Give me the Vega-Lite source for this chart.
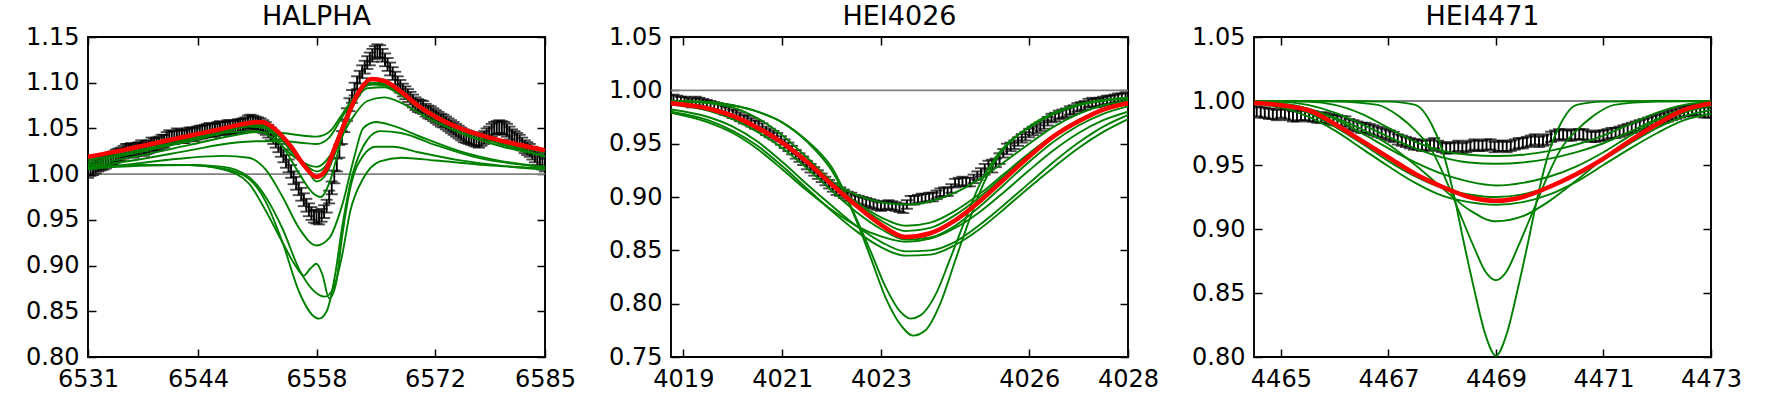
{
"$schema": "https://vega.github.io/schema/vega-lite/v6.json",
"padding": {"left": 24, "top": 2, "right": 5, "bottom": 5},
"bounds": "flush",
"spacing": 126,
"config": {
  "font": "DejaVu Sans",
  "view": {"stroke": "black", "strokeWidth": 1.9},
  "axis": {"domain": false, "grid": false, "ticks": true, "tickSize": -8, "tickColor": "black", "tickWidth": 1.5, "labelFont": "DejaVu Sans", "labelFontSize": 24, "labelColor": "black", "labelFlush": false, "labelOverlap": false, "labelPadding": 17, "title": null, "minExtent": 0},
  "axisX": {"labelPadding": 18},
  "title": {"font": "DejaVu Sans", "fontSize": 27, "fontWeight": "normal", "color": "black", "offset": -6, "baseline": "alphabetic", "anchor": "middle", "frame": "group"}
},
"datasets": {
"pts": [
{"p":"a","x":6531.0,"y":1.003,"e":0.007},{"p":"a","x":6531.6,"y":1.006,"e":0.007},{"p":"a","x":6532.2,"y":1.010,"e":0.007},{"p":"a","x":6532.8,"y":1.012,"e":0.007},{"p":"a","x":6533.4,"y":1.015,"e":0.007},{"p":"a","x":6534.0,"y":1.018,"e":0.007},{"p":"a","x":6534.6,"y":1.021,"e":0.007},{"p":"a","x":6535.2,"y":1.024,"e":0.007},{"p":"a","x":6535.8,"y":1.026,"e":0.007},{"p":"a","x":6536.4,"y":1.025,"e":0.007},
{"p":"a","x":6537.0,"y":1.028,"e":0.007},{"p":"a","x":6537.6,"y":1.027,"e":0.007},{"p":"a","x":6538.2,"y":1.030,"e":0.007},{"p":"a","x":6538.8,"y":1.032,"e":0.007},{"p":"a","x":6539.4,"y":1.034,"e":0.007},{"p":"a","x":6540.0,"y":1.036,"e":0.007},{"p":"a","x":6540.6,"y":1.041,"e":0.007},{"p":"a","x":6541.2,"y":1.040,"e":0.007},{"p":"a","x":6541.8,"y":1.042,"e":0.007},{"p":"a","x":6542.4,"y":1.041,"e":0.007},
{"p":"a","x":6543.0,"y":1.044,"e":0.007},{"p":"a","x":6543.6,"y":1.043,"e":0.007},{"p":"a","x":6544.2,"y":1.046,"e":0.007},{"p":"a","x":6544.8,"y":1.047,"e":0.007},{"p":"a","x":6545.4,"y":1.049,"e":0.007},{"p":"a","x":6546.0,"y":1.048,"e":0.007},{"p":"a","x":6546.6,"y":1.051,"e":0.007},{"p":"a","x":6547.2,"y":1.050,"e":0.007},{"p":"a","x":6547.8,"y":1.052,"e":0.007},{"p":"a","x":6548.4,"y":1.051,"e":0.007},
{"p":"a","x":6549.0,"y":1.053,"e":0.007},{"p":"a","x":6549.6,"y":1.055,"e":0.007},{"p":"a","x":6550.2,"y":1.058,"e":0.007},{"p":"a","x":6550.8,"y":1.056,"e":0.007},{"p":"a","x":6551.4,"y":1.054,"e":0.007},{"p":"a","x":6552.0,"y":1.050,"e":0.007},{"p":"a","x":6552.6,"y":1.044,"e":0.007},{"p":"a","x":6553.2,"y":1.036,"e":0.007},{"p":"a","x":6553.8,"y":1.026,"e":0.007},{"p":"a","x":6554.4,"y":1.014,"e":0.007},
{"p":"a","x":6555.0,"y":1.003,"e":0.007},{"p":"a","x":6555.6,"y":0.990,"e":0.007},{"p":"a","x":6556.2,"y":0.978,"e":0.007},{"p":"a","x":6556.8,"y":0.966,"e":0.007},{"p":"a","x":6557.4,"y":0.957,"e":0.007},{"p":"a","x":6558.0,"y":0.953,"e":0.007},{"p":"a","x":6558.6,"y":0.955,"e":0.007},{"p":"a","x":6559.2,"y":0.965,"e":0.007},{"p":"a","x":6559.8,"y":0.985,"e":0.007},{"p":"a","x":6560.4,"y":1.010,"e":0.007},
{"p":"a","x":6561.0,"y":1.040,"e":0.007},{"p":"a","x":6561.6,"y":1.065,"e":0.007},{"p":"a","x":6562.2,"y":1.085,"e":0.007},{"p":"a","x":6562.8,"y":1.100,"e":0.007},{"p":"a","x":6563.4,"y":1.112,"e":0.007},{"p":"a","x":6564.0,"y":1.122,"e":0.007},{"p":"a","x":6564.6,"y":1.130,"e":0.007},{"p":"a","x":6565.2,"y":1.135,"e":0.007},{"p":"a","x":6565.8,"y":1.130,"e":0.007},{"p":"a","x":6566.4,"y":1.120,"e":0.007},
{"p":"a","x":6567.0,"y":1.110,"e":0.007},{"p":"a","x":6567.6,"y":1.100,"e":0.007},{"p":"a","x":6568.2,"y":1.092,"e":0.007},{"p":"a","x":6568.8,"y":1.086,"e":0.007},{"p":"a","x":6569.4,"y":1.080,"e":0.007},{"p":"a","x":6570.0,"y":1.075,"e":0.007},{"p":"a","x":6570.6,"y":1.073,"e":0.007},{"p":"a","x":6571.2,"y":1.068,"e":0.007},{"p":"a","x":6571.8,"y":1.065,"e":0.007},{"p":"a","x":6572.4,"y":1.061,"e":0.007},
{"p":"a","x":6573.0,"y":1.058,"e":0.007},{"p":"a","x":6573.6,"y":1.054,"e":0.007},{"p":"a","x":6574.2,"y":1.050,"e":0.007},{"p":"a","x":6574.8,"y":1.046,"e":0.007},{"p":"a","x":6575.4,"y":1.042,"e":0.007},{"p":"a","x":6576.0,"y":1.040,"e":0.007},{"p":"a","x":6576.6,"y":1.038,"e":0.007},{"p":"a","x":6577.2,"y":1.036,"e":0.007},{"p":"a","x":6577.8,"y":1.040,"e":0.007},{"p":"a","x":6578.4,"y":1.045,"e":0.007},
{"p":"a","x":6579.0,"y":1.050,"e":0.007},{"p":"a","x":6579.6,"y":1.052,"e":0.007},{"p":"a","x":6580.2,"y":1.050,"e":0.007},{"p":"a","x":6580.8,"y":1.045,"e":0.007},{"p":"a","x":6581.4,"y":1.040,"e":0.007},{"p":"a","x":6582.0,"y":1.036,"e":0.007},{"p":"a","x":6582.6,"y":1.030,"e":0.007},{"p":"a","x":6583.2,"y":1.026,"e":0.007},{"p":"a","x":6583.8,"y":1.020,"e":0.007},{"p":"a","x":6584.4,"y":1.015,"e":0.007},{"p":"a","x":6585.0,"y":1.010,"e":0.007},
{"p":"a","x":6531.3,"y":1.005,"e":0.007},{"p":"a","x":6531.9,"y":1.008,"e":0.007},{"p":"a","x":6532.5,"y":1.011,"e":0.007},{"p":"a","x":6533.1,"y":1.013,"e":0.007},{"p":"a","x":6533.7,"y":1.017,"e":0.007},{"p":"a","x":6534.3,"y":1.020,"e":0.007},{"p":"a","x":6534.9,"y":1.022,"e":0.007},{"p":"a","x":6535.5,"y":1.026,"e":0.007},{"p":"a","x":6536.1,"y":1.027,"e":0.007},{"p":"a","x":6536.7,"y":1.027,"e":0.007},
{"p":"a","x":6537.3,"y":1.030,"e":0.007},{"p":"a","x":6537.9,"y":1.029,"e":0.007},{"p":"a","x":6538.5,"y":1.033,"e":0.007},{"p":"a","x":6539.1,"y":1.033,"e":0.007},{"p":"a","x":6539.7,"y":1.036,"e":0.007},{"p":"a","x":6540.3,"y":1.039,"e":0.007},{"p":"a","x":6540.9,"y":1.040,"e":0.007},{"p":"a","x":6541.5,"y":1.043,"e":0.007},{"p":"a","x":6542.1,"y":1.041,"e":0.007},{"p":"a","x":6542.7,"y":1.043,"e":0.007},
{"p":"a","x":6543.3,"y":1.044,"e":0.007},{"p":"a","x":6543.9,"y":1.045,"e":0.007},{"p":"a","x":6544.5,"y":1.046,"e":0.007},{"p":"a","x":6545.1,"y":1.048,"e":0.007},{"p":"a","x":6545.7,"y":1.048,"e":0.007},{"p":"a","x":6546.3,"y":1.050,"e":0.007},{"p":"a","x":6546.9,"y":1.050,"e":0.007},{"p":"a","x":6547.5,"y":1.052,"e":0.007},{"p":"a","x":6548.1,"y":1.051,"e":0.007},{"p":"a","x":6548.7,"y":1.053,"e":0.007},
{"p":"a","x":6549.3,"y":1.054,"e":0.007},{"p":"a","x":6549.9,"y":1.057,"e":0.007},{"p":"a","x":6550.5,"y":1.057,"e":0.007},{"p":"a","x":6551.1,"y":1.055,"e":0.007},{"p":"a","x":6551.7,"y":1.052,"e":0.007},{"p":"a","x":6552.3,"y":1.047,"e":0.007},{"p":"a","x":6552.9,"y":1.040,"e":0.007},{"p":"a","x":6553.5,"y":1.031,"e":0.007},{"p":"a","x":6554.1,"y":1.020,"e":0.007},{"p":"a","x":6554.7,"y":1.009,"e":0.007},
{"p":"a","x":6555.3,"y":0.996,"e":0.007},{"p":"a","x":6555.9,"y":0.984,"e":0.007},{"p":"a","x":6556.5,"y":0.972,"e":0.007},{"p":"a","x":6557.1,"y":0.961,"e":0.007},{"p":"a","x":6557.7,"y":0.954,"e":0.007},{"p":"a","x":6558.3,"y":0.952,"e":0.007},{"p":"a","x":6558.9,"y":0.959,"e":0.007},{"p":"a","x":6559.5,"y":0.975,"e":0.007},{"p":"a","x":6560.1,"y":0.997,"e":0.007},{"p":"a","x":6560.7,"y":1.025,"e":0.007},
{"p":"a","x":6561.3,"y":1.053,"e":0.007},{"p":"a","x":6561.9,"y":1.076,"e":0.007},{"p":"a","x":6562.5,"y":1.093,"e":0.007},{"p":"a","x":6563.1,"y":1.106,"e":0.007},{"p":"a","x":6563.7,"y":1.117,"e":0.007},{"p":"a","x":6564.3,"y":1.126,"e":0.007},{"p":"a","x":6564.9,"y":1.133,"e":0.007},{"p":"a","x":6565.5,"y":1.134,"e":0.007},{"p":"a","x":6566.1,"y":1.125,"e":0.007},{"p":"a","x":6566.7,"y":1.115,"e":0.007},
{"p":"a","x":6567.3,"y":1.105,"e":0.007},{"p":"a","x":6567.9,"y":1.096,"e":0.007},{"p":"a","x":6568.5,"y":1.089,"e":0.007},{"p":"a","x":6569.1,"y":1.083,"e":0.007},{"p":"a","x":6569.7,"y":1.077,"e":0.007},{"p":"a","x":6570.3,"y":1.074,"e":0.007},{"p":"a","x":6570.9,"y":1.070,"e":0.007},{"p":"a","x":6571.5,"y":1.067,"e":0.007},{"p":"a","x":6572.1,"y":1.063,"e":0.007},{"p":"a","x":6572.7,"y":1.059,"e":0.007},
{"p":"a","x":6573.3,"y":1.056,"e":0.007},{"p":"a","x":6573.9,"y":1.052,"e":0.007},{"p":"a","x":6574.5,"y":1.048,"e":0.007},{"p":"a","x":6575.1,"y":1.044,"e":0.007},{"p":"a","x":6575.7,"y":1.041,"e":0.007},{"p":"a","x":6576.3,"y":1.039,"e":0.007},{"p":"a","x":6576.9,"y":1.037,"e":0.007},{"p":"a","x":6577.5,"y":1.038,"e":0.007},{"p":"a","x":6578.1,"y":1.043,"e":0.007},{"p":"a","x":6578.7,"y":1.048,"e":0.007},
{"p":"a","x":6579.3,"y":1.051,"e":0.007},{"p":"a","x":6579.9,"y":1.051,"e":0.007},{"p":"a","x":6580.5,"y":1.048,"e":0.007},{"p":"a","x":6581.1,"y":1.042,"e":0.007},{"p":"a","x":6581.7,"y":1.038,"e":0.007},{"p":"a","x":6582.3,"y":1.033,"e":0.007},{"p":"a","x":6582.9,"y":1.028,"e":0.007},{"p":"a","x":6583.5,"y":1.023,"e":0.007},{"p":"a","x":6584.1,"y":1.017,"e":0.007},{"p":"a","x":6584.7,"y":1.012,"e":0.007},
{"p":"b","x":4018.8,"y":0.992,"e":0.004},{"p":"b","x":4018.95,"y":0.990,"e":0.004},{"p":"b","x":4019.1,"y":0.989,"e":0.004},{"p":"b","x":4019.25,"y":0.990,"e":0.004},{"p":"b","x":4019.4,"y":0.988,"e":0.004},{"p":"b","x":4019.55,"y":0.986,"e":0.004},{"p":"b","x":4019.7,"y":0.984,"e":0.004},{"p":"b","x":4019.85,"y":0.981,"e":0.004},{"p":"b","x":4020.0,"y":0.978,"e":0.004},{"p":"b","x":4020.15,"y":0.975,"e":0.004},
{"p":"b","x":4020.3,"y":0.972,"e":0.004},{"p":"b","x":4020.45,"y":0.968,"e":0.004},{"p":"b","x":4020.6,"y":0.965,"e":0.004},{"p":"b","x":4020.75,"y":0.960,"e":0.004},{"p":"b","x":4020.9,"y":0.956,"e":0.004},{"p":"b","x":4021.05,"y":0.950,"e":0.004},{"p":"b","x":4021.2,"y":0.944,"e":0.004},{"p":"b","x":4021.35,"y":0.937,"e":0.004},{"p":"b","x":4021.5,"y":0.930,"e":0.004},{"p":"b","x":4021.65,"y":0.924,"e":0.004},
{"p":"b","x":4021.8,"y":0.918,"e":0.004},{"p":"b","x":4021.95,"y":0.912,"e":0.004},{"p":"b","x":4022.1,"y":0.906,"e":0.004},{"p":"b","x":4022.25,"y":0.903,"e":0.004},{"p":"b","x":4022.4,"y":0.900,"e":0.004},{"p":"b","x":4022.55,"y":0.897,"e":0.004},{"p":"b","x":4022.7,"y":0.895,"e":0.004},{"p":"b","x":4022.85,"y":0.893,"e":0.004},{"p":"b","x":4023.0,"y":0.891,"e":0.004},{"p":"b","x":4023.15,"y":0.893,"e":0.004},
{"p":"b","x":4023.3,"y":0.891,"e":0.004},{"p":"b","x":4023.45,"y":0.889,"e":0.004},{"p":"b","x":4023.6,"y":0.897,"e":0.004},{"p":"b","x":4023.75,"y":0.898,"e":0.004},{"p":"b","x":4023.9,"y":0.899,"e":0.004},{"p":"b","x":4024.05,"y":0.900,"e":0.004},{"p":"b","x":4024.2,"y":0.904,"e":0.004},{"p":"b","x":4024.35,"y":0.905,"e":0.004},{"p":"b","x":4024.5,"y":0.913,"e":0.004},{"p":"b","x":4024.65,"y":0.915,"e":0.004},
{"p":"b","x":4024.8,"y":0.914,"e":0.004},{"p":"b","x":4024.95,"y":0.920,"e":0.004},{"p":"b","x":4025.1,"y":0.926,"e":0.005},{"p":"b","x":4025.25,"y":0.929,"e":0.006},{"p":"b","x":4025.4,"y":0.936,"e":0.005},{"p":"b","x":4025.55,"y":0.945,"e":0.005},{"p":"b","x":4025.7,"y":0.949,"e":0.004},{"p":"b","x":4025.85,"y":0.955,"e":0.004},{"p":"b","x":4026.0,"y":0.960,"e":0.004},{"p":"b","x":4026.15,"y":0.964,"e":0.004},
{"p":"b","x":4026.3,"y":0.968,"e":0.004},{"p":"b","x":4026.45,"y":0.974,"e":0.004},{"p":"b","x":4026.6,"y":0.977,"e":0.004},{"p":"b","x":4026.75,"y":0.979,"e":0.004},{"p":"b","x":4026.9,"y":0.982,"e":0.004},{"p":"b","x":4027.05,"y":0.985,"e":0.004},{"p":"b","x":4027.2,"y":0.988,"e":0.004},{"p":"b","x":4027.35,"y":0.988,"e":0.004},{"p":"b","x":4027.5,"y":0.990,"e":0.004},{"p":"b","x":4027.65,"y":0.991,"e":0.004},{"p":"b","x":4027.8,"y":0.993,"e":0.004},{"p":"b","x":4027.95,"y":0.994,"e":0.004},
{"p":"b","x":4018.875,"y":0.991,"e":0.004},{"p":"b","x":4019.025,"y":0.990,"e":0.004},{"p":"b","x":4019.175,"y":0.988,"e":0.004},{"p":"b","x":4019.325,"y":0.989,"e":0.004},{"p":"b","x":4019.475,"y":0.987,"e":0.004},{"p":"b","x":4019.625,"y":0.985,"e":0.004},{"p":"b","x":4019.775,"y":0.983,"e":0.004},{"p":"b","x":4019.925,"y":0.980,"e":0.004},{"p":"b","x":4020.075,"y":0.977,"e":0.004},{"p":"b","x":4020.225,"y":0.973,"e":0.004},
{"p":"b","x":4020.375,"y":0.970,"e":0.004},{"p":"b","x":4020.525,"y":0.967,"e":0.004},{"p":"b","x":4020.675,"y":0.962,"e":0.004},{"p":"b","x":4020.825,"y":0.958,"e":0.004},{"p":"b","x":4020.975,"y":0.953,"e":0.004},{"p":"b","x":4021.125,"y":0.947,"e":0.004},{"p":"b","x":4021.275,"y":0.940,"e":0.004},{"p":"b","x":4021.425,"y":0.934,"e":0.004},{"p":"b","x":4021.575,"y":0.927,"e":0.004},{"p":"b","x":4021.725,"y":0.921,"e":0.004},
{"p":"b","x":4021.875,"y":0.915,"e":0.004},{"p":"b","x":4022.025,"y":0.909,"e":0.004},{"p":"b","x":4022.175,"y":0.905,"e":0.004},{"p":"b","x":4022.325,"y":0.901,"e":0.004},{"p":"b","x":4022.475,"y":0.898,"e":0.004},{"p":"b","x":4022.625,"y":0.896,"e":0.004},{"p":"b","x":4022.775,"y":0.894,"e":0.004},{"p":"b","x":4022.925,"y":0.892,"e":0.004},{"p":"b","x":4023.075,"y":0.892,"e":0.004},{"p":"b","x":4023.225,"y":0.892,"e":0.004},
{"p":"b","x":4023.375,"y":0.890,"e":0.004},{"p":"b","x":4023.525,"y":0.893,"e":0.004},{"p":"b","x":4023.675,"y":0.897,"e":0.004},{"p":"b","x":4023.825,"y":0.899,"e":0.004},{"p":"b","x":4023.975,"y":0.900,"e":0.004},{"p":"b","x":4024.125,"y":0.902,"e":0.004},{"p":"b","x":4024.275,"y":0.905,"e":0.004},{"p":"b","x":4024.425,"y":0.908,"e":0.004},{"p":"b","x":4024.575,"y":0.914,"e":0.004},{"p":"b","x":4024.725,"y":0.914,"e":0.004},
{"p":"b","x":4024.875,"y":0.917,"e":0.004},{"p":"b","x":4025.025,"y":0.923,"e":0.004},{"p":"b","x":4025.175,"y":0.930,"e":0.004},{"p":"b","x":4025.325,"y":0.932,"e":0.004},{"p":"b","x":4025.475,"y":0.941,"e":0.004},{"p":"b","x":4025.625,"y":0.947,"e":0.004},{"p":"b","x":4025.775,"y":0.952,"e":0.004},{"p":"b","x":4025.925,"y":0.957,"e":0.004},{"p":"b","x":4026.075,"y":0.962,"e":0.004},{"p":"b","x":4026.225,"y":0.966,"e":0.004},
{"p":"b","x":4026.375,"y":0.971,"e":0.004},{"p":"b","x":4026.525,"y":0.975,"e":0.004},{"p":"b","x":4026.675,"y":0.978,"e":0.004},{"p":"b","x":4026.825,"y":0.981,"e":0.004},{"p":"b","x":4026.975,"y":0.984,"e":0.004},{"p":"b","x":4027.125,"y":0.986,"e":0.004},{"p":"b","x":4027.275,"y":0.989,"e":0.004},{"p":"b","x":4027.425,"y":0.989,"e":0.004},{"p":"b","x":4027.575,"y":0.991,"e":0.004},{"p":"b","x":4027.725,"y":0.992,"e":0.004},{"p":"b","x":4027.875,"y":0.993,"e":0.004},
{"p":"c","x":4464.55,"y":0.992,"e":0.004},{"p":"c","x":4464.7,"y":0.991,"e":0.004},{"p":"c","x":4464.85,"y":0.990,"e":0.004},{"p":"c","x":4465.0,"y":0.991,"e":0.004},{"p":"c","x":4465.15,"y":0.989,"e":0.004},{"p":"c","x":4465.3,"y":0.988,"e":0.004},{"p":"c","x":4465.45,"y":0.989,"e":0.004},{"p":"c","x":4465.6,"y":0.988,"e":0.004},{"p":"c","x":4465.75,"y":0.987,"e":0.004},{"p":"c","x":4465.9,"y":0.986,"e":0.004},
{"p":"c","x":4466.05,"y":0.985,"e":0.004},{"p":"c","x":4466.2,"y":0.984,"e":0.004},{"p":"c","x":4466.35,"y":0.981,"e":0.004},{"p":"c","x":4466.5,"y":0.979,"e":0.004},{"p":"c","x":4466.65,"y":0.978,"e":0.004},{"p":"c","x":4466.8,"y":0.976,"e":0.004},{"p":"c","x":4466.95,"y":0.974,"e":0.004},{"p":"c","x":4467.1,"y":0.972,"e":0.004},{"p":"c","x":4467.25,"y":0.969,"e":0.004},{"p":"c","x":4467.4,"y":0.967,"e":0.004},
{"p":"c","x":4467.55,"y":0.966,"e":0.004},{"p":"c","x":4467.7,"y":0.965,"e":0.004},{"p":"c","x":4467.85,"y":0.967,"e":0.004},{"p":"c","x":4468.0,"y":0.964,"e":0.004},{"p":"c","x":4468.15,"y":0.963,"e":0.004},{"p":"c","x":4468.3,"y":0.965,"e":0.004},{"p":"c","x":4468.45,"y":0.964,"e":0.004},{"p":"c","x":4468.6,"y":0.966,"e":0.004},{"p":"c","x":4468.75,"y":0.965,"e":0.004},{"p":"c","x":4468.9,"y":0.966,"e":0.004},
{"p":"c","x":4469.05,"y":0.965,"e":0.004},{"p":"c","x":4469.2,"y":0.964,"e":0.004},{"p":"c","x":4469.35,"y":0.966,"e":0.004},{"p":"c","x":4469.5,"y":0.967,"e":0.004},{"p":"c","x":4469.65,"y":0.969,"e":0.004},{"p":"c","x":4469.8,"y":0.968,"e":0.004},{"p":"c","x":4469.95,"y":0.970,"e":0.004},{"p":"c","x":4470.1,"y":0.973,"e":0.004},{"p":"c","x":4470.25,"y":0.974,"e":0.004},{"p":"c","x":4470.4,"y":0.973,"e":0.004},
{"p":"c","x":4470.55,"y":0.974,"e":0.004},{"p":"c","x":4470.7,"y":0.973,"e":0.004},{"p":"c","x":4470.85,"y":0.972,"e":0.004},{"p":"c","x":4471.0,"y":0.973,"e":0.004},{"p":"c","x":4471.15,"y":0.975,"e":0.004},{"p":"c","x":4471.3,"y":0.976,"e":0.004},{"p":"c","x":4471.45,"y":0.978,"e":0.004},{"p":"c","x":4471.6,"y":0.980,"e":0.004},{"p":"c","x":4471.75,"y":0.982,"e":0.004},{"p":"c","x":4471.9,"y":0.984,"e":0.004},
{"p":"c","x":4472.05,"y":0.986,"e":0.004},{"p":"c","x":4472.2,"y":0.988,"e":0.004},{"p":"c","x":4472.35,"y":0.990,"e":0.004},{"p":"c","x":4472.5,"y":0.992,"e":0.004},{"p":"c","x":4472.65,"y":0.993,"e":0.004},{"p":"c","x":4472.8,"y":0.992,"e":0.004},{"p":"c","x":4472.95,"y":0.991,"e":0.004},
{"p":"c","x":4464.625,"y":0.991,"e":0.004},{"p":"c","x":4464.775,"y":0.990,"e":0.004},{"p":"c","x":4464.925,"y":0.989,"e":0.004},{"p":"c","x":4465.075,"y":0.990,"e":0.004},{"p":"c","x":4465.225,"y":0.988,"e":0.004},{"p":"c","x":4465.375,"y":0.989,"e":0.004},{"p":"c","x":4465.525,"y":0.988,"e":0.004},{"p":"c","x":4465.675,"y":0.987,"e":0.004},{"p":"c","x":4465.825,"y":0.987,"e":0.004},{"p":"c","x":4465.975,"y":0.985,"e":0.004},
{"p":"c","x":4466.125,"y":0.984,"e":0.004},{"p":"c","x":4466.275,"y":0.982,"e":0.004},{"p":"c","x":4466.425,"y":0.980,"e":0.004},{"p":"c","x":4466.575,"y":0.979,"e":0.004},{"p":"c","x":4466.725,"y":0.977,"e":0.004},{"p":"c","x":4466.875,"y":0.975,"e":0.004},{"p":"c","x":4467.025,"y":0.973,"e":0.004},{"p":"c","x":4467.175,"y":0.970,"e":0.004},{"p":"c","x":4467.325,"y":0.968,"e":0.004},{"p":"c","x":4467.475,"y":0.966,"e":0.004},
{"p":"c","x":4467.625,"y":0.965,"e":0.004},{"p":"c","x":4467.775,"y":0.966,"e":0.004},{"p":"c","x":4467.925,"y":0.965,"e":0.004},{"p":"c","x":4468.075,"y":0.963,"e":0.004},{"p":"c","x":4468.225,"y":0.964,"e":0.004},{"p":"c","x":4468.375,"y":0.963,"e":0.004},{"p":"c","x":4468.525,"y":0.965,"e":0.004},{"p":"c","x":4468.675,"y":0.965,"e":0.004},{"p":"c","x":4468.825,"y":0.966,"e":0.004},{"p":"c","x":4468.975,"y":0.964,"e":0.004},
{"p":"c","x":4469.125,"y":0.965,"e":0.004},{"p":"c","x":4469.275,"y":0.965,"e":0.004},{"p":"c","x":4469.425,"y":0.967,"e":0.004},{"p":"c","x":4469.575,"y":0.968,"e":0.004},{"p":"c","x":4469.725,"y":0.970,"e":0.004},{"p":"c","x":4469.875,"y":0.969,"e":0.004},{"p":"c","x":4470.025,"y":0.972,"e":0.004},{"p":"c","x":4470.175,"y":0.974,"e":0.004},{"p":"c","x":4470.325,"y":0.973,"e":0.004},{"p":"c","x":4470.475,"y":0.974,"e":0.004},
{"p":"c","x":4470.625,"y":0.974,"e":0.004},{"p":"c","x":4470.775,"y":0.972,"e":0.004},{"p":"c","x":4470.925,"y":0.973,"e":0.004},{"p":"c","x":4471.075,"y":0.974,"e":0.004},{"p":"c","x":4471.225,"y":0.975,"e":0.004},{"p":"c","x":4471.375,"y":0.977,"e":0.004},{"p":"c","x":4471.525,"y":0.979,"e":0.004},{"p":"c","x":4471.675,"y":0.981,"e":0.004},{"p":"c","x":4471.825,"y":0.983,"e":0.004},{"p":"c","x":4471.975,"y":0.985,"e":0.004},
{"p":"c","x":4472.125,"y":0.987,"e":0.004},{"p":"c","x":4472.275,"y":0.989,"e":0.004},{"p":"c","x":4472.425,"y":0.991,"e":0.004},{"p":"c","x":4472.575,"y":0.992,"e":0.004},{"p":"c","x":4472.725,"y":0.993,"e":0.004},{"p":"c","x":4472.875,"y":0.991,"e":0.004}
],
"lines": [
{"p":"a","m":"best","x":6531,"y":1.019},{"p":"a","m":"best","x":6535,"y":1.026},{"p":"a","m":"best","x":6539,"y":1.034},{"p":"a","m":"best","x":6543,"y":1.042},{"p":"a","m":"best","x":6547,"y":1.050},{"p":"a","m":"best","x":6550,"y":1.056},{"p":"a","m":"best","x":6551.5,"y":1.057},{"p":"a","m":"best","x":6553,"y":1.050},{"p":"a","m":"best","x":6555,"y":1.030},{"p":"a","m":"best","x":6556.5,"y":1.010},{"p":"a","m":"best","x":6558,"y":0.997},{"p":"a","m":"best","x":6559,"y":1.003},{"p":"a","m":"best","x":6560,"y":1.025},{"p":"a","m":"best","x":6561.5,"y":1.060},{"p":"a","m":"best","x":6563,"y":1.090},{"p":"a","m":"best","x":6564.5,"y":1.104},{"p":"a","m":"best","x":6566,"y":1.102},{"p":"a","m":"best","x":6568,"y":1.090},{"p":"a","m":"best","x":6570,"y":1.075},{"p":"a","m":"best","x":6572,"y":1.063},{"p":"a","m":"best","x":6575,"y":1.050},{"p":"a","m":"best","x":6578,"y":1.041},{"p":"a","m":"best","x":6581,"y":1.034},{"p":"a","m":"best","x":6585,"y":1.026},
{"p":"a","m":"g1","x":6531,"y":1.015},{"p":"a","m":"g1","x":6535,"y":1.022},{"p":"a","m":"g1","x":6539,"y":1.030},{"p":"a","m":"g1","x":6543,"y":1.038},{"p":"a","m":"g1","x":6547,"y":1.046},{"p":"a","m":"g1","x":6550,"y":1.052},{"p":"a","m":"g1","x":6552,"y":1.050},{"p":"a","m":"g1","x":6554,"y":1.030},{"p":"a","m":"g1","x":6556,"y":1.000},{"p":"a","m":"g1","x":6557.5,"y":0.980},{"p":"a","m":"g1","x":6558.5,"y":0.975},{"p":"a","m":"g1","x":6559.5,"y":0.990},{"p":"a","m":"g1","x":6561,"y":1.040},{"p":"a","m":"g1","x":6562.5,"y":1.080},{"p":"a","m":"g1","x":6564.5,"y":1.100},{"p":"a","m":"g1","x":6566,"y":1.099},{"p":"a","m":"g1","x":6568,"y":1.088},{"p":"a","m":"g1","x":6570,"y":1.074},{"p":"a","m":"g1","x":6573,"y":1.058},{"p":"a","m":"g1","x":6577,"y":1.043},{"p":"a","m":"g1","x":6581,"y":1.032},{"p":"a","m":"g1","x":6585,"y":1.024},
{"p":"a","m":"g2","x":6531,"y":1.017},{"p":"a","m":"g2","x":6535,"y":1.025},{"p":"a","m":"g2","x":6539,"y":1.033},{"p":"a","m":"g2","x":6543,"y":1.041},{"p":"a","m":"g2","x":6547,"y":1.049},{"p":"a","m":"g2","x":6550.5,"y":1.055},{"p":"a","m":"g2","x":6552.5,"y":1.050},{"p":"a","m":"g2","x":6554.5,"y":1.032},{"p":"a","m":"g2","x":6556.5,"y":1.012},{"p":"a","m":"g2","x":6558,"y":1.003},{"p":"a","m":"g2","x":6559,"y":1.008},{"p":"a","m":"g2","x":6560.5,"y":1.040},{"p":"a","m":"g2","x":6562,"y":1.075},{"p":"a","m":"g2","x":6564.5,"y":1.098},{"p":"a","m":"g2","x":6566,"y":1.097},{"p":"a","m":"g2","x":6568,"y":1.087},{"p":"a","m":"g2","x":6571,"y":1.068},{"p":"a","m":"g2","x":6574,"y":1.054},{"p":"a","m":"g2","x":6578,"y":1.041},{"p":"a","m":"g2","x":6581,"y":1.034},{"p":"a","m":"g2","x":6585,"y":1.027},
{"p":"a","m":"g3","x":6531,"y":1.012},{"p":"a","m":"g3","x":6537,"y":1.024},{"p":"a","m":"g3","x":6543,"y":1.036},{"p":"a","m":"g3","x":6548,"y":1.046},{"p":"a","m":"g3","x":6551,"y":1.047},{"p":"a","m":"g3","x":6553,"y":1.038},{"p":"a","m":"g3","x":6555.5,"y":1.018},{"p":"a","m":"g3","x":6558,"y":1.008},{"p":"a","m":"g3","x":6560,"y":1.025},{"p":"a","m":"g3","x":6562,"y":1.058},{"p":"a","m":"g3","x":6564,"y":1.080},{"p":"a","m":"g3","x":6566,"y":1.084},{"p":"a","m":"g3","x":6568,"y":1.078},{"p":"a","m":"g3","x":6571,"y":1.062},{"p":"a","m":"g3","x":6575,"y":1.045},{"p":"a","m":"g3","x":6580,"y":1.030},{"p":"a","m":"g3","x":6585,"y":1.020},
{"p":"a","m":"g4","x":6531,"y":1.010},{"p":"a","m":"g4","x":6537,"y":1.020},{"p":"a","m":"g4","x":6543,"y":1.032},{"p":"a","m":"g4","x":6548,"y":1.042},{"p":"a","m":"g4","x":6551,"y":1.046},{"p":"a","m":"g4","x":6554,"y":1.045},{"p":"a","m":"g4","x":6556.5,"y":1.042},{"p":"a","m":"g4","x":6558,"y":1.041},{"p":"a","m":"g4","x":6559.5,"y":1.046},{"p":"a","m":"g4","x":6561,"y":1.065},{"p":"a","m":"g4","x":6562.5,"y":1.085},{"p":"a","m":"g4","x":6564,"y":1.098},{"p":"a","m":"g4","x":6565.5,"y":1.100},{"p":"a","m":"g4","x":6567,"y":1.094},{"p":"a","m":"g4","x":6570,"y":1.076},{"p":"a","m":"g4","x":6574,"y":1.055},{"p":"a","m":"g4","x":6579,"y":1.036},{"p":"a","m":"g4","x":6585,"y":1.020},
{"p":"a","m":"g5","x":6531,"y":1.008},{"p":"a","m":"g5","x":6537,"y":1.016},{"p":"a","m":"g5","x":6543,"y":1.026},{"p":"a","m":"g5","x":6548,"y":1.034},{"p":"a","m":"g5","x":6551,"y":1.036},{"p":"a","m":"g5","x":6554,"y":1.036},{"p":"a","m":"g5","x":6556.5,"y":1.034},{"p":"a","m":"g5","x":6558,"y":1.033},{"p":"a","m":"g5","x":6559.5,"y":1.040},{"p":"a","m":"g5","x":6561,"y":1.062},{"p":"a","m":"g5","x":6562.5,"y":1.084},{"p":"a","m":"g5","x":6564,"y":1.097},{"p":"a","m":"g5","x":6565.5,"y":1.099},{"p":"a","m":"g5","x":6567,"y":1.093},{"p":"a","m":"g5","x":6570,"y":1.075},{"p":"a","m":"g5","x":6574,"y":1.054},{"p":"a","m":"g5","x":6579,"y":1.035},{"p":"a","m":"g5","x":6585,"y":1.019},
{"p":"a","m":"g6","x":6531,"y":1.005},{"p":"a","m":"g6","x":6537,"y":1.012},{"p":"a","m":"g6","x":6543,"y":1.018},{"p":"a","m":"g6","x":6547,"y":1.020},{"p":"a","m":"g6","x":6550,"y":1.018},{"p":"a","m":"g6","x":6552,"y":1.005},{"p":"a","m":"g6","x":6554,"y":0.975},{"p":"a","m":"g6","x":6556,"y":0.940},{"p":"a","m":"g6","x":6558,"y":0.922},{"p":"a","m":"g6","x":6559.5,"y":0.930},{"p":"a","m":"g6","x":6561,"y":0.965},{"p":"a","m":"g6","x":6562.5,"y":1.020},{"p":"a","m":"g6","x":6563.5,"y":1.050},{"p":"a","m":"g6","x":6565,"y":1.057},{"p":"a","m":"g6","x":6567,"y":1.053},{"p":"a","m":"g6","x":6570,"y":1.042},{"p":"a","m":"g6","x":6575,"y":1.025},{"p":"a","m":"g6","x":6580,"y":1.014},{"p":"a","m":"g6","x":6585,"y":1.008},
{"p":"a","m":"g7","x":6531,"y":1.006},{"p":"a","m":"g7","x":6537,"y":1.010},{"p":"a","m":"g7","x":6543,"y":1.010},{"p":"a","m":"g7","x":6547,"y":1.005},{"p":"a","m":"g7","x":6550,"y":0.990},{"p":"a","m":"g7","x":6552,"y":0.960},{"p":"a","m":"g7","x":6554,"y":0.925},{"p":"a","m":"g7","x":6555.5,"y":0.900},{"p":"a","m":"g7","x":6556.5,"y":0.889},{"p":"a","m":"g7","x":6557.3,"y":0.897},{"p":"a","m":"g7","x":6558,"y":0.902},{"p":"a","m":"g7","x":6558.7,"y":0.890},{"p":"a","m":"g7","x":6559.5,"y":0.864},{"p":"a","m":"g7","x":6560.3,"y":0.880},{"p":"a","m":"g7","x":6561,"y":0.930},{"p":"a","m":"g7","x":6562,"y":0.985},{"p":"a","m":"g7","x":6563.5,"y":1.020},{"p":"a","m":"g7","x":6565,"y":1.030},{"p":"a","m":"g7","x":6567,"y":1.030},{"p":"a","m":"g7","x":6570,"y":1.024},{"p":"a","m":"g7","x":6575,"y":1.015},{"p":"a","m":"g7","x":6580,"y":1.009},{"p":"a","m":"g7","x":6585,"y":1.005},
{"p":"a","m":"g8","x":6531,"y":1.007},{"p":"a","m":"g8","x":6537,"y":1.010},{"p":"a","m":"g8","x":6543,"y":1.010},{"p":"a","m":"g8","x":6547,"y":1.006},{"p":"a","m":"g8","x":6550,"y":0.995},{"p":"a","m":"g8","x":6552,"y":0.970},{"p":"a","m":"g8","x":6554,"y":0.925},{"p":"a","m":"g8","x":6556,"y":0.870},{"p":"a","m":"g8","x":6557.5,"y":0.846},{"p":"a","m":"g8","x":6558.3,"y":0.842},{"p":"a","m":"g8","x":6559.2,"y":0.850},{"p":"a","m":"g8","x":6560.2,"y":0.890},{"p":"a","m":"g8","x":6561,"y":0.940},{"p":"a","m":"g8","x":6562,"y":0.990},{"p":"a","m":"g8","x":6563.5,"y":1.030},{"p":"a","m":"g8","x":6565.5,"y":1.047},{"p":"a","m":"g8","x":6568,"y":1.045},{"p":"a","m":"g8","x":6572,"y":1.032},{"p":"a","m":"g8","x":6577,"y":1.018},{"p":"a","m":"g8","x":6585,"y":1.008},
{"p":"a","m":"g9","x":6531,"y":1.006},{"p":"a","m":"g9","x":6537,"y":1.009},{"p":"a","m":"g9","x":6543,"y":1.010},{"p":"a","m":"g9","x":6547,"y":1.008},{"p":"a","m":"g9","x":6550,"y":0.997},{"p":"a","m":"g9","x":6552,"y":0.975},{"p":"a","m":"g9","x":6554,"y":0.940},{"p":"a","m":"g9","x":6556,"y":0.895},{"p":"a","m":"g9","x":6557.5,"y":0.874},{"p":"a","m":"g9","x":6559,"y":0.866},{"p":"a","m":"g9","x":6560,"y":0.875},{"p":"a","m":"g9","x":6561,"y":0.910},{"p":"a","m":"g9","x":6562,"y":0.960},{"p":"a","m":"g9","x":6563.5,"y":0.995},{"p":"a","m":"g9","x":6565.5,"y":1.014},{"p":"a","m":"g9","x":6568,"y":1.018},{"p":"a","m":"g9","x":6572,"y":1.015},{"p":"a","m":"g9","x":6578,"y":1.010},{"p":"a","m":"g9","x":6585,"y":1.006},
{"p":"a","m":"g10","x":6531,"y":1.018},{"p":"a","m":"g10","x":6537,"y":1.029},{"p":"a","m":"g10","x":6543,"y":1.040},{"p":"a","m":"g10","x":6548,"y":1.050},{"p":"a","m":"g10","x":6551,"y":1.054},{"p":"a","m":"g10","x":6553,"y":1.046},{"p":"a","m":"g10","x":6555,"y":1.025},{"p":"a","m":"g10","x":6557,"y":1.003},{"p":"a","m":"g10","x":6558,"y":0.992},{"p":"a","m":"g10","x":6559,"y":0.998},{"p":"a","m":"g10","x":6560.5,"y":1.030},{"p":"a","m":"g10","x":6562,"y":1.068},{"p":"a","m":"g10","x":6564,"y":1.094},{"p":"a","m":"g10","x":6566,"y":1.095},{"p":"a","m":"g10","x":6568,"y":1.086},{"p":"a","m":"g10","x":6571,"y":1.066},{"p":"a","m":"g10","x":6575,"y":1.048},{"p":"a","m":"g10","x":6580,"y":1.034},{"p":"a","m":"g10","x":6585,"y":1.024},
{"p":"b","m":"best","x":4018.75,"y":0.988},{"p":"b","m":"best","x":4019.5,"y":0.983},{"p":"b","m":"best","x":4020,"y":0.976},{"p":"b","m":"best","x":4020.5,"y":0.965},{"p":"b","m":"best","x":4021,"y":0.951},{"p":"b","m":"best","x":4021.5,"y":0.933},{"p":"b","m":"best","x":4022,"y":0.912},{"p":"b","m":"best","x":4022.5,"y":0.892},{"p":"b","m":"best","x":4023,"y":0.874},{"p":"b","m":"best","x":4023.5,"y":0.8625},{"p":"b","m":"best","x":4024,"y":0.866},{"p":"b","m":"best","x":4024.5,"y":0.878},{"p":"b","m":"best","x":4025,"y":0.896},{"p":"b","m":"best","x":4025.5,"y":0.917},{"p":"b","m":"best","x":4026,"y":0.938},{"p":"b","m":"best","x":4026.5,"y":0.957},{"p":"b","m":"best","x":4027,"y":0.971},{"p":"b","m":"best","x":4027.5,"y":0.982},{"p":"b","m":"best","x":4028,"y":0.988},
{"p":"b","m":"g1","x":4018.75,"y":0.990},{"p":"b","m":"g1","x":4019.5,"y":0.988},{"p":"b","m":"g1","x":4020,"y":0.984},{"p":"b","m":"g1","x":4020.5,"y":0.974},{"p":"b","m":"g1","x":4021,"y":0.958},{"p":"b","m":"g1","x":4021.5,"y":0.937},{"p":"b","m":"g1","x":4022,"y":0.915},{"p":"b","m":"g1","x":4022.5,"y":0.902},{"p":"b","m":"g1","x":4023,"y":0.895},{"p":"b","m":"g1","x":4023.5,"y":0.893},{"p":"b","m":"g1","x":4024,"y":0.896},{"p":"b","m":"g1","x":4024.5,"y":0.904},{"p":"b","m":"g1","x":4025,"y":0.917},{"p":"b","m":"g1","x":4025.5,"y":0.933},{"p":"b","m":"g1","x":4026,"y":0.950},{"p":"b","m":"g1","x":4026.5,"y":0.966},{"p":"b","m":"g1","x":4027,"y":0.978},{"p":"b","m":"g1","x":4027.5,"y":0.986},{"p":"b","m":"g1","x":4028,"y":0.990},
{"p":"b","m":"g2","x":4018.75,"y":0.982},{"p":"b","m":"g2","x":4019.5,"y":0.975},{"p":"b","m":"g2","x":4020,"y":0.966},{"p":"b","m":"g2","x":4020.5,"y":0.952},{"p":"b","m":"g2","x":4021,"y":0.933},{"p":"b","m":"g2","x":4021.5,"y":0.912},{"p":"b","m":"g2","x":4022,"y":0.892},{"p":"b","m":"g2","x":4022.5,"y":0.873},{"p":"b","m":"g2","x":4023,"y":0.858},{"p":"b","m":"g2","x":4023.5,"y":0.849},{"p":"b","m":"g2","x":4024,"y":0.850},{"p":"b","m":"g2","x":4024.5,"y":0.858},{"p":"b","m":"g2","x":4025,"y":0.874},{"p":"b","m":"g2","x":4025.5,"y":0.893},{"p":"b","m":"g2","x":4026,"y":0.913},{"p":"b","m":"g2","x":4026.5,"y":0.933},{"p":"b","m":"g2","x":4027,"y":0.951},{"p":"b","m":"g2","x":4027.5,"y":0.966},{"p":"b","m":"g2","x":4028,"y":0.977},
{"p":"b","m":"g3","x":4018.75,"y":0.980},{"p":"b","m":"g3","x":4019.5,"y":0.972},{"p":"b","m":"g3","x":4020,"y":0.962},{"p":"b","m":"g3","x":4020.5,"y":0.948},{"p":"b","m":"g3","x":4021,"y":0.929},{"p":"b","m":"g3","x":4021.5,"y":0.908},{"p":"b","m":"g3","x":4022,"y":0.887},{"p":"b","m":"g3","x":4022.5,"y":0.868},{"p":"b","m":"g3","x":4023,"y":0.853},{"p":"b","m":"g3","x":4023.5,"y":0.845},{"p":"b","m":"g3","x":4024,"y":0.846},{"p":"b","m":"g3","x":4024.5,"y":0.855},{"p":"b","m":"g3","x":4025,"y":0.870},{"p":"b","m":"g3","x":4025.5,"y":0.889},{"p":"b","m":"g3","x":4026,"y":0.909},{"p":"b","m":"g3","x":4026.5,"y":0.928},{"p":"b","m":"g3","x":4027,"y":0.946},{"p":"b","m":"g3","x":4027.5,"y":0.961},{"p":"b","m":"g3","x":4028,"y":0.973},
{"p":"b","m":"g4","x":4018.75,"y":0.990},{"p":"b","m":"g4","x":4019.5,"y":0.989},{"p":"b","m":"g4","x":4020,"y":0.986},{"p":"b","m":"g4","x":4020.5,"y":0.980},{"p":"b","m":"g4","x":4021,"y":0.970},{"p":"b","m":"g4","x":4021.5,"y":0.953},{"p":"b","m":"g4","x":4022,"y":0.928},{"p":"b","m":"g4","x":4022.5,"y":0.880},{"p":"b","m":"g4","x":4022.8,"y":0.848},{"p":"b","m":"g4","x":4023.1,"y":0.815},{"p":"b","m":"g4","x":4023.4,"y":0.792},{"p":"b","m":"g4","x":4023.6,"y":0.786},{"p":"b","m":"g4","x":4023.8,"y":0.789},{"p":"b","m":"g4","x":4024.1,"y":0.808},{"p":"b","m":"g4","x":4024.4,"y":0.842},{"p":"b","m":"g4","x":4024.7,"y":0.878},{"p":"b","m":"g4","x":4025,"y":0.912},{"p":"b","m":"g4","x":4025.3,"y":0.936},{"p":"b","m":"g4","x":4025.6,"y":0.952},{"p":"b","m":"g4","x":4026,"y":0.965},{"p":"b","m":"g4","x":4026.5,"y":0.978},{"p":"b","m":"g4","x":4027,"y":0.986},{"p":"b","m":"g4","x":4027.5,"y":0.990},{"p":"b","m":"g4","x":4028,"y":0.992},
{"p":"b","m":"g5","x":4018.75,"y":0.990},{"p":"b","m":"g5","x":4019.5,"y":0.989},{"p":"b","m":"g5","x":4020,"y":0.986},{"p":"b","m":"g5","x":4020.5,"y":0.980},{"p":"b","m":"g5","x":4021,"y":0.970},{"p":"b","m":"g5","x":4021.5,"y":0.952},{"p":"b","m":"g5","x":4022,"y":0.925},{"p":"b","m":"g5","x":4022.5,"y":0.878},{"p":"b","m":"g5","x":4022.8,"y":0.842},{"p":"b","m":"g5","x":4023.1,"y":0.805},{"p":"b","m":"g5","x":4023.4,"y":0.780},{"p":"b","m":"g5","x":4023.65,"y":0.770},{"p":"b","m":"g5","x":4023.9,"y":0.775},{"p":"b","m":"g5","x":4024.2,"y":0.800},{"p":"b","m":"g5","x":4024.5,"y":0.840},{"p":"b","m":"g5","x":4024.8,"y":0.880},{"p":"b","m":"g5","x":4025.1,"y":0.915},{"p":"b","m":"g5","x":4025.4,"y":0.940},{"p":"b","m":"g5","x":4025.7,"y":0.955},{"p":"b","m":"g5","x":4026,"y":0.966},{"p":"b","m":"g5","x":4026.5,"y":0.979},{"p":"b","m":"g5","x":4027,"y":0.987},{"p":"b","m":"g5","x":4027.5,"y":0.991},{"p":"b","m":"g5","x":4028,"y":0.993},
{"p":"b","m":"g6","x":4018.75,"y":0.979},{"p":"b","m":"g6","x":4019.5,"y":0.970},{"p":"b","m":"g6","x":4020,"y":0.960},{"p":"b","m":"g6","x":4020.5,"y":0.945},{"p":"b","m":"g6","x":4021,"y":0.926},{"p":"b","m":"g6","x":4021.5,"y":0.906},{"p":"b","m":"g6","x":4022,"y":0.888},{"p":"b","m":"g6","x":4022.5,"y":0.873},{"p":"b","m":"g6","x":4023,"y":0.863},{"p":"b","m":"g6","x":4023.5,"y":0.858},{"p":"b","m":"g6","x":4024,"y":0.861},{"p":"b","m":"g6","x":4024.5,"y":0.871},{"p":"b","m":"g6","x":4025,"y":0.886},{"p":"b","m":"g6","x":4025.5,"y":0.905},{"p":"b","m":"g6","x":4026,"y":0.925},{"p":"b","m":"g6","x":4026.5,"y":0.944},{"p":"b","m":"g6","x":4027,"y":0.960},{"p":"b","m":"g6","x":4027.5,"y":0.972},{"p":"b","m":"g6","x":4028,"y":0.980},
{"p":"b","m":"g7","x":4018.75,"y":0.987},{"p":"b","m":"g7","x":4019.5,"y":0.982},{"p":"b","m":"g7","x":4020,"y":0.975},{"p":"b","m":"g7","x":4020.5,"y":0.964},{"p":"b","m":"g7","x":4021,"y":0.950},{"p":"b","m":"g7","x":4021.5,"y":0.932},{"p":"b","m":"g7","x":4022,"y":0.913},{"p":"b","m":"g7","x":4022.5,"y":0.895},{"p":"b","m":"g7","x":4023,"y":0.881},{"p":"b","m":"g7","x":4023.5,"y":0.873},{"p":"b","m":"g7","x":4024,"y":0.876},{"p":"b","m":"g7","x":4024.5,"y":0.887},{"p":"b","m":"g7","x":4025,"y":0.903},{"p":"b","m":"g7","x":4025.5,"y":0.922},{"p":"b","m":"g7","x":4026,"y":0.941},{"p":"b","m":"g7","x":4026.5,"y":0.958},{"p":"b","m":"g7","x":4027,"y":0.972},{"p":"b","m":"g7","x":4027.5,"y":0.982},{"p":"b","m":"g7","x":4028,"y":0.988},
{"p":"b","m":"g8","x":4018.75,"y":0.988},{"p":"b","m":"g8","x":4019.5,"y":0.983},{"p":"b","m":"g8","x":4020,"y":0.976},{"p":"b","m":"g8","x":4020.5,"y":0.965},{"p":"b","m":"g8","x":4021,"y":0.951},{"p":"b","m":"g8","x":4021.5,"y":0.933},{"p":"b","m":"g8","x":4022,"y":0.913},{"p":"b","m":"g8","x":4022.5,"y":0.894},{"p":"b","m":"g8","x":4023,"y":0.878},{"p":"b","m":"g8","x":4023.5,"y":0.868},{"p":"b","m":"g8","x":4024,"y":0.871},{"p":"b","m":"g8","x":4024.5,"y":0.883},{"p":"b","m":"g8","x":4025,"y":0.900},{"p":"b","m":"g8","x":4025.5,"y":0.920},{"p":"b","m":"g8","x":4026,"y":0.940},{"p":"b","m":"g8","x":4026.5,"y":0.958},{"p":"b","m":"g8","x":4027,"y":0.972},{"p":"b","m":"g8","x":4027.5,"y":0.982},{"p":"b","m":"g8","x":4028,"y":0.988},
{"p":"b","m":"g9","x":4018.75,"y":0.987},{"p":"b","m":"g9","x":4019.5,"y":0.981},{"p":"b","m":"g9","x":4020,"y":0.973},{"p":"b","m":"g9","x":4020.5,"y":0.961},{"p":"b","m":"g9","x":4021,"y":0.946},{"p":"b","m":"g9","x":4021.5,"y":0.927},{"p":"b","m":"g9","x":4022,"y":0.906},{"p":"b","m":"g9","x":4022.5,"y":0.886},{"p":"b","m":"g9","x":4023,"y":0.870},{"p":"b","m":"g9","x":4023.5,"y":0.860},{"p":"b","m":"g9","x":4024,"y":0.862},{"p":"b","m":"g9","x":4024.5,"y":0.873},{"p":"b","m":"g9","x":4025,"y":0.891},{"p":"b","m":"g9","x":4025.5,"y":0.912},{"p":"b","m":"g9","x":4026,"y":0.933},{"p":"b","m":"g9","x":4026.5,"y":0.952},{"p":"b","m":"g9","x":4027,"y":0.967},{"p":"b","m":"g9","x":4027.5,"y":0.978},{"p":"b","m":"g9","x":4028,"y":0.985},
{"p":"c","m":"best","x":4464.5,"y":0.9987},{"p":"c","m":"best","x":4465.5,"y":0.993},{"p":"c","m":"best","x":4466,"y":0.982},{"p":"c","m":"best","x":4466.5,"y":0.969},{"p":"c","m":"best","x":4467,"y":0.956},{"p":"c","m":"best","x":4467.5,"y":0.943},{"p":"c","m":"best","x":4468,"y":0.933},{"p":"c","m":"best","x":4468.5,"y":0.925},{"p":"c","m":"best","x":4469,"y":0.922},{"p":"c","m":"best","x":4469.5,"y":0.925},{"p":"c","m":"best","x":4470,"y":0.933},{"p":"c","m":"best","x":4470.5,"y":0.943},{"p":"c","m":"best","x":4471,"y":0.955},{"p":"c","m":"best","x":4471.5,"y":0.969},{"p":"c","m":"best","x":4472,"y":0.982},{"p":"c","m":"best","x":4472.5,"y":0.993},{"p":"c","m":"best","x":4473,"y":0.998},
{"p":"c","m":"g1","x":4464.5,"y":1.0},{"p":"c","m":"g1","x":4466,"y":1.0},{"p":"c","m":"g1","x":4467,"y":0.9995},{"p":"c","m":"g1","x":4467.5,"y":0.997},{"p":"c","m":"g1","x":4467.8,"y":0.982},{"p":"c","m":"g1","x":4468,"y":0.962},{"p":"c","m":"g1","x":4468.2,"y":0.930},{"p":"c","m":"g1","x":4468.4,"y":0.890},{"p":"c","m":"g1","x":4468.6,"y":0.852},{"p":"c","m":"g1","x":4468.8,"y":0.818},{"p":"c","m":"g1","x":4469,"y":0.801},{"p":"c","m":"g1","x":4469.2,"y":0.818},{"p":"c","m":"g1","x":4469.4,"y":0.852},{"p":"c","m":"g1","x":4469.6,"y":0.890},{"p":"c","m":"g1","x":4469.8,"y":0.930},{"p":"c","m":"g1","x":4470,"y":0.962},{"p":"c","m":"g1","x":4470.2,"y":0.982},{"p":"c","m":"g1","x":4470.5,"y":0.997},{"p":"c","m":"g1","x":4471,"y":0.9995},{"p":"c","m":"g1","x":4472,"y":1.0},{"p":"c","m":"g1","x":4473,"y":1.0},
{"p":"c","m":"g2","x":4464.5,"y":1.0},{"p":"c","m":"g2","x":4466,"y":0.9995},{"p":"c","m":"g2","x":4466.8,"y":0.997},{"p":"c","m":"g2","x":4467.2,"y":0.988},{"p":"c","m":"g2","x":4467.5,"y":0.977},{"p":"c","m":"g2","x":4467.8,"y":0.962},{"p":"c","m":"g2","x":4468,"y":0.945},{"p":"c","m":"g2","x":4468.3,"y":0.915},{"p":"c","m":"g2","x":4468.6,"y":0.885},{"p":"c","m":"g2","x":4468.8,"y":0.867},{"p":"c","m":"g2","x":4469,"y":0.860},{"p":"c","m":"g2","x":4469.2,"y":0.867},{"p":"c","m":"g2","x":4469.4,"y":0.885},{"p":"c","m":"g2","x":4469.7,"y":0.915},{"p":"c","m":"g2","x":4470,"y":0.945},{"p":"c","m":"g2","x":4470.2,"y":0.962},{"p":"c","m":"g2","x":4470.5,"y":0.977},{"p":"c","m":"g2","x":4470.8,"y":0.988},{"p":"c","m":"g2","x":4471.2,"y":0.997},{"p":"c","m":"g2","x":4472,"y":0.9995},{"p":"c","m":"g2","x":4473,"y":1.0},
{"p":"c","m":"g3","x":4464.5,"y":0.9995},{"p":"c","m":"g3","x":4465,"y":0.998},{"p":"c","m":"g3","x":4465.5,"y":0.994},{"p":"c","m":"g3","x":4466,"y":0.987},{"p":"c","m":"g3","x":4466.5,"y":0.978},{"p":"c","m":"g3","x":4467,"y":0.966},{"p":"c","m":"g3","x":4467.5,"y":0.950},{"p":"c","m":"g3","x":4468,"y":0.932},{"p":"c","m":"g3","x":4468.5,"y":0.915},{"p":"c","m":"g3","x":4469,"y":0.906},{"p":"c","m":"g3","x":4469.5,"y":0.910},{"p":"c","m":"g3","x":4470,"y":0.922},{"p":"c","m":"g3","x":4470.5,"y":0.938},{"p":"c","m":"g3","x":4471,"y":0.955},{"p":"c","m":"g3","x":4471.5,"y":0.970},{"p":"c","m":"g3","x":4472,"y":0.982},{"p":"c","m":"g3","x":4472.5,"y":0.991},{"p":"c","m":"g3","x":4473,"y":0.996},
{"p":"c","m":"g4","x":4464.5,"y":1.0},{"p":"c","m":"g4","x":4465,"y":0.9995},{"p":"c","m":"g4","x":4465.5,"y":0.997},{"p":"c","m":"g4","x":4466,"y":0.991},{"p":"c","m":"g4","x":4466.5,"y":0.982},{"p":"c","m":"g4","x":4467,"y":0.972},{"p":"c","m":"g4","x":4467.5,"y":0.963},{"p":"c","m":"g4","x":4468,"y":0.956},{"p":"c","m":"g4","x":4468.5,"y":0.952},{"p":"c","m":"g4","x":4469,"y":0.951},{"p":"c","m":"g4","x":4469.5,"y":0.952},{"p":"c","m":"g4","x":4470,"y":0.955},{"p":"c","m":"g4","x":4470.5,"y":0.960},{"p":"c","m":"g4","x":4471,"y":0.967},{"p":"c","m":"g4","x":4471.5,"y":0.976},{"p":"c","m":"g4","x":4472,"y":0.986},{"p":"c","m":"g4","x":4472.5,"y":0.994},{"p":"c","m":"g4","x":4473,"y":0.998},
{"p":"c","m":"g5","x":4464.5,"y":0.9995},{"p":"c","m":"g5","x":4465,"y":0.998},{"p":"c","m":"g5","x":4465.5,"y":0.994},{"p":"c","m":"g5","x":4466,"y":0.986},{"p":"c","m":"g5","x":4466.5,"y":0.975},{"p":"c","m":"g5","x":4467,"y":0.963},{"p":"c","m":"g5","x":4467.5,"y":0.952},{"p":"c","m":"g5","x":4468,"y":0.943},{"p":"c","m":"g5","x":4468.5,"y":0.937},{"p":"c","m":"g5","x":4469,"y":0.934},{"p":"c","m":"g5","x":4469.5,"y":0.936},{"p":"c","m":"g5","x":4470,"y":0.941},{"p":"c","m":"g5","x":4470.5,"y":0.949},{"p":"c","m":"g5","x":4471,"y":0.960},{"p":"c","m":"g5","x":4471.5,"y":0.973},{"p":"c","m":"g5","x":4472,"y":0.985},{"p":"c","m":"g5","x":4472.5,"y":0.993},{"p":"c","m":"g5","x":4473,"y":0.997},
{"p":"c","m":"g6","x":4464.5,"y":0.999},{"p":"c","m":"g6","x":4465,"y":0.997},{"p":"c","m":"g6","x":4465.5,"y":0.991},{"p":"c","m":"g6","x":4466,"y":0.980},{"p":"c","m":"g6","x":4466.5,"y":0.967},{"p":"c","m":"g6","x":4467,"y":0.953},{"p":"c","m":"g6","x":4467.5,"y":0.941},{"p":"c","m":"g6","x":4468,"y":0.932},{"p":"c","m":"g6","x":4468.5,"y":0.927},{"p":"c","m":"g6","x":4469,"y":0.925},{"p":"c","m":"g6","x":4469.5,"y":0.927},{"p":"c","m":"g6","x":4470,"y":0.933},{"p":"c","m":"g6","x":4470.5,"y":0.942},{"p":"c","m":"g6","x":4471,"y":0.954},{"p":"c","m":"g6","x":4471.5,"y":0.967},{"p":"c","m":"g6","x":4472,"y":0.979},{"p":"c","m":"g6","x":4472.5,"y":0.988},{"p":"c","m":"g6","x":4473,"y":0.993},
{"p":"c","m":"g7","x":4464.5,"y":0.998},{"p":"c","m":"g7","x":4465,"y":0.995},{"p":"c","m":"g7","x":4465.5,"y":0.988},{"p":"c","m":"g7","x":4466,"y":0.977},{"p":"c","m":"g7","x":4466.5,"y":0.963},{"p":"c","m":"g7","x":4467,"y":0.949},{"p":"c","m":"g7","x":4467.5,"y":0.936},{"p":"c","m":"g7","x":4468,"y":0.926},{"p":"c","m":"g7","x":4468.5,"y":0.921},{"p":"c","m":"g7","x":4469,"y":0.919},{"p":"c","m":"g7","x":4469.5,"y":0.921},{"p":"c","m":"g7","x":4470,"y":0.927},{"p":"c","m":"g7","x":4470.5,"y":0.937},{"p":"c","m":"g7","x":4471,"y":0.950},{"p":"c","m":"g7","x":4471.5,"y":0.963},{"p":"c","m":"g7","x":4472,"y":0.975},{"p":"c","m":"g7","x":4472.5,"y":0.985},{"p":"c","m":"g7","x":4473,"y":0.990},
{"p":"c","m":"g8","x":4464.5,"y":1.0},{"p":"c","m":"g8","x":4465.5,"y":0.9995},{"p":"c","m":"g8","x":4466,"y":0.997},{"p":"c","m":"g8","x":4466.5,"y":0.990},{"p":"c","m":"g8","x":4467,"y":0.979},{"p":"c","m":"g8","x":4467.5,"y":0.968},{"p":"c","m":"g8","x":4468,"y":0.961},{"p":"c","m":"g8","x":4468.5,"y":0.958},{"p":"c","m":"g8","x":4469,"y":0.957},{"p":"c","m":"g8","x":4469.5,"y":0.958},{"p":"c","m":"g8","x":4470,"y":0.961},{"p":"c","m":"g8","x":4470.5,"y":0.966},{"p":"c","m":"g8","x":4471,"y":0.973},{"p":"c","m":"g8","x":4471.5,"y":0.982},{"p":"c","m":"g8","x":4472,"y":0.991},{"p":"c","m":"g8","x":4472.5,"y":0.997},{"p":"c","m":"g8","x":4473,"y":0.999}
]
},
"hconcat": [
{
 "title": {"text": "HALPHA"},
 "width": 457, "height": 320,
 "resolve": {"axis": {"x": "independent", "y": "independent"}},
 "layer": [
  {"data": {"values": [{}]}, "mark": {"type": "rule", "color": "#808080", "strokeWidth": 1.9},
   "encoding": {"y": {"datum": 1, "type": "quantitative", "scale": {"domain": [0.8, 1.15], "nice": false, "zero": false}, "axis": null}}},
  {"data": {"name": "pts"}, "transform": [{"filter": "datum.p == 'a'"}],
   "mark": {"type": "errorbar", "ticks": true, "size": 12, "thickness": 1.9, "color": "black", "clip": true},
   "encoding": {
    "x": {"field": "x", "type": "quantitative", "scale": {"domain": [6531, 6585], "nice": false, "zero": false}, "axis": null},
    "y": {"field": "y", "type": "quantitative", "scale": {"domain": [0.8, 1.15], "nice": false, "zero": false}, "axis": null},
    "yError": {"field": "e"}}},
  {"data": {"name": "lines"}, "transform": [{"filter": "datum.p == 'a' && datum.m != 'best'"}],
   "mark": {"type": "line", "color": "#008000", "strokeWidth": 1.9, "interpolate": "monotone", "clip": true},
   "encoding": {
    "x": {"field": "x", "type": "quantitative", "scale": {"domain": [6531, 6585], "nice": false, "zero": false}, "axis": {"orient": "bottom", "values": [6531, 6544, 6558, 6572, 6585], "format": "d"}},
    "y": {"field": "y", "type": "quantitative", "scale": {"domain": [0.8, 1.15], "nice": false, "zero": false}, "axis": {"orient": "left", "values": [0.8, 0.85, 0.9, 0.95, 1, 1.05, 1.1, 1.15], "format": ".2f"}},
    "detail": {"field": "m"}}},
  {"data": {"name": "lines"}, "transform": [{"filter": "datum.p == 'a' && datum.m == 'best'"}],
   "mark": {"type": "line", "color": "#ff0000", "strokeWidth": 4.5, "interpolate": "monotone", "clip": true},
   "encoding": {
    "x": {"field": "x", "type": "quantitative", "scale": {"domain": [6531, 6585], "nice": false, "zero": false}, "axis": {"orient": "top", "labels": false, "maxExtent": 0, "values": [6531, 6544, 6558, 6572, 6585]}},
    "y": {"field": "y", "type": "quantitative", "scale": {"domain": [0.8, 1.15], "nice": false, "zero": false}, "axis": {"orient": "right", "labels": false, "maxExtent": 0, "values": [0.8, 0.85, 0.9, 0.95, 1, 1.05, 1.1, 1.15]}}}}
 ]
},
{
 "title": {"text": "HEI4026"},
 "width": 457, "height": 320,
 "resolve": {"axis": {"x": "independent", "y": "independent"}},
 "layer": [
  {"data": {"values": [{}]}, "mark": {"type": "rule", "color": "#808080", "strokeWidth": 1.9},
   "encoding": {"y": {"datum": 1, "type": "quantitative", "scale": {"domain": [0.75, 1.05], "nice": false, "zero": false}, "axis": null}}},
  {"data": {"name": "pts"}, "transform": [{"filter": "datum.p == 'b'"}],
   "mark": {"type": "errorbar", "ticks": true, "size": 12, "thickness": 1.9, "color": "black", "clip": true},
   "encoding": {
    "x": {"field": "x", "type": "quantitative", "scale": {"domain": [4018.75, 4028], "nice": false, "zero": false}, "axis": null},
    "y": {"field": "y", "type": "quantitative", "scale": {"domain": [0.75, 1.05], "nice": false, "zero": false}, "axis": null},
    "yError": {"field": "e"}}},
  {"data": {"name": "lines"}, "transform": [{"filter": "datum.p == 'b' && datum.m != 'best'"}],
   "mark": {"type": "line", "color": "#008000", "strokeWidth": 1.9, "interpolate": "monotone", "clip": true},
   "encoding": {
    "x": {"field": "x", "type": "quantitative", "scale": {"domain": [4018.75, 4028], "nice": false, "zero": false}, "axis": {"orient": "bottom", "values": [4019, 4021, 4023, 4026, 4028], "format": "d"}},
    "y": {"field": "y", "type": "quantitative", "scale": {"domain": [0.75, 1.05], "nice": false, "zero": false}, "axis": {"orient": "left", "values": [0.75, 0.8, 0.85, 0.9, 0.95, 1, 1.05], "format": ".2f"}},
    "detail": {"field": "m"}}},
  {"data": {"name": "lines"}, "transform": [{"filter": "datum.p == 'b' && datum.m == 'best'"}],
   "mark": {"type": "line", "color": "#ff0000", "strokeWidth": 4.5, "interpolate": "monotone", "clip": true},
   "encoding": {
    "x": {"field": "x", "type": "quantitative", "scale": {"domain": [4018.75, 4028], "nice": false, "zero": false}, "axis": {"orient": "top", "labels": false, "maxExtent": 0, "values": [4019, 4021, 4023, 4026, 4028]}},
    "y": {"field": "y", "type": "quantitative", "scale": {"domain": [0.75, 1.05], "nice": false, "zero": false}, "axis": {"orient": "right", "labels": false, "maxExtent": 0, "values": [0.75, 0.8, 0.85, 0.9, 0.95, 1, 1.05]}}}}
 ]
},
{
 "title": {"text": "HEI4471"},
 "width": 457, "height": 320,
 "resolve": {"axis": {"x": "independent", "y": "independent"}},
 "layer": [
  {"data": {"values": [{}]}, "mark": {"type": "rule", "color": "#808080", "strokeWidth": 1.9},
   "encoding": {"y": {"datum": 1, "type": "quantitative", "scale": {"domain": [0.8, 1.05], "nice": false, "zero": false}, "axis": null}}},
  {"data": {"name": "pts"}, "transform": [{"filter": "datum.p == 'c'"}],
   "mark": {"type": "errorbar", "ticks": true, "size": 12, "thickness": 1.9, "color": "black", "clip": true},
   "encoding": {
    "x": {"field": "x", "type": "quantitative", "scale": {"domain": [4464.5, 4473], "nice": false, "zero": false}, "axis": null},
    "y": {"field": "y", "type": "quantitative", "scale": {"domain": [0.8, 1.05], "nice": false, "zero": false}, "axis": null},
    "yError": {"field": "e"}}},
  {"data": {"name": "lines"}, "transform": [{"filter": "datum.p == 'c' && datum.m != 'best'"}],
   "mark": {"type": "line", "color": "#008000", "strokeWidth": 1.9, "interpolate": "monotone", "clip": true},
   "encoding": {
    "x": {"field": "x", "type": "quantitative", "scale": {"domain": [4464.5, 4473], "nice": false, "zero": false}, "axis": {"orient": "bottom", "values": [4465, 4467, 4469, 4471, 4473], "format": "d"}},
    "y": {"field": "y", "type": "quantitative", "scale": {"domain": [0.8, 1.05], "nice": false, "zero": false}, "axis": {"orient": "left", "values": [0.8, 0.85, 0.9, 0.95, 1, 1.05], "format": ".2f"}},
    "detail": {"field": "m"}}},
  {"data": {"name": "lines"}, "transform": [{"filter": "datum.p == 'c' && datum.m == 'best'"}],
   "mark": {"type": "line", "color": "#ff0000", "strokeWidth": 4.5, "interpolate": "monotone", "clip": true},
   "encoding": {
    "x": {"field": "x", "type": "quantitative", "scale": {"domain": [4464.5, 4473], "nice": false, "zero": false}, "axis": {"orient": "top", "labels": false, "maxExtent": 0, "values": [4465, 4467, 4469, 4471, 4473]}},
    "y": {"field": "y", "type": "quantitative", "scale": {"domain": [0.8, 1.05], "nice": false, "zero": false}, "axis": {"orient": "right", "labels": false, "maxExtent": 0, "values": [0.8, 0.85, 0.9, 0.95, 1, 1.05]}}}}
 ]
}
]
}
